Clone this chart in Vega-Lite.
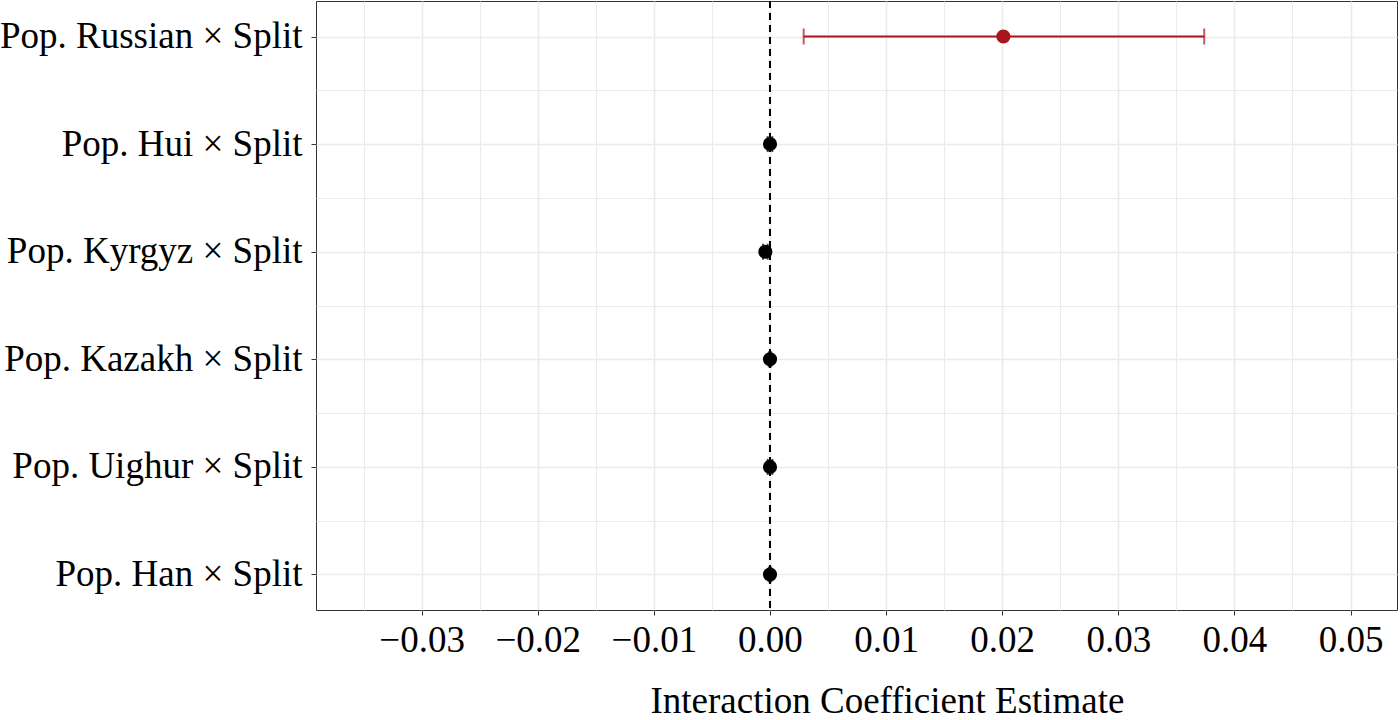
{
  "$schema": "https://vega.github.io/schema/vega-lite/v6.json",
  "width": 1081,
  "height": 609,
  "autosize": {"type": "none"},
  "padding": {"left": 316, "top": 1, "right": 3, "bottom": 110},
  "background": "white",
  "config": {
    "view": {"stroke": "#333333", "strokeWidth": 1},
    "font": "Liberation Serif",
    "axis": {
      "labelFont": "Liberation Serif",
      "titleFont": "Liberation Serif",
      "labelColor": "black",
      "titleColor": "black",
      "titleFontWeight": "normal",
      "domain": false,
      "tickColor": "#333333",
      "gridColor": "#EBEBEB",
      "labelLimit": 600
    }
  },
  "data": {
    "values": [
      {"term": "Pop. Russian × Split", "est": 0.0201, "lo": 0.0029, "hi": 0.0374, "sig": "yes"},
      {"term": "Pop. Hui × Split", "est": 0.0000, "lo": -0.0002, "hi": 0.0002, "sig": "no"},
      {"term": "Pop. Kyrgyz × Split", "est": -0.0004, "lo": -0.0006, "hi": -0.0002, "sig": "no"},
      {"term": "Pop. Kazakh × Split", "est": 0.0000, "lo": -0.0001, "hi": 0.0001, "sig": "no"},
      {"term": "Pop. Uighur × Split", "est": 0.0000, "lo": -0.0002, "hi": 0.0002, "sig": "no"},
      {"term": "Pop. Han × Split", "est": 0.0000, "lo": -0.0001, "hi": 0.0001, "sig": "no"}
    ]
  },
  "layer": [
    {
      "mark": {"type": "point", "opacity": 0},
      "encoding": {
        "y": {
          "field": "term",
          "type": "nominal",
          "scale": {"type": "point", "domain": ["m1", "m2", "m3", "m4", "m5"], "padding": 0.83},
          "axis": {"orient": "left", "grid": true, "gridWidth": 1, "labels": false, "ticks": false, "domain": false, "title": null}
        }
      }
    },
    {
      "encoding": {
        "y": {
          "field": "term",
          "type": "nominal",
          "sort": null,
          "scale": {"type": "point", "padding": 0.33},
          "axis": {
            "orient": "left",
            "grid": true,
            "gridWidth": 1.6,
            "tickSize": 5,
            "labelPadding": 9,
            "labelFontSize": 37,
            "labelLimit": 600,
            "title": null
          }
        }
      },
      "layer": [
        {
          "mark": {"type": "rule", "strokeDash": [7, 5], "strokeWidth": 2, "color": "black"},
          "encoding": {"x": {"datum": 0, "type": "quantitative"}, "y": null}
        },
        {
          "mark": {"type": "rule", "strokeWidth": 2},
          "encoding": {
            "x": {"field": "lo", "type": "quantitative"},
            "x2": {"field": "hi"},
            "color": {"field": "sig", "type": "nominal", "scale": {"domain": ["yes", "no"], "range": ["#A8141F", "black"]}, "legend": null}
          }
        },
        {
          "mark": {"type": "tick", "orient": "vertical", "size": 16, "thickness": 2},
          "encoding": {
            "x": {"field": "lo", "type": "quantitative"},
            "color": {"field": "sig", "type": "nominal", "legend": null}
          }
        },
        {
          "mark": {"type": "tick", "orient": "vertical", "size": 16, "thickness": 2},
          "encoding": {
            "x": {"field": "hi", "type": "quantitative"},
            "color": {"field": "sig", "type": "nominal", "legend": null}
          }
        },
        {
          "mark": {"type": "circle", "size": 200, "opacity": 1},
          "encoding": {
            "x": {
              "field": "est",
              "type": "quantitative",
              "scale": {"domain": [-0.0391, 0.054], "nice": false, "zero": false},
              "axis": {
                "values": [-0.035, -0.03, -0.025, -0.02, -0.015, -0.01, -0.005, 0, 0.005, 0.01, 0.015, 0.02, 0.025, 0.03, 0.035, 0.04, 0.045, 0.05],
                "labelExpr": "abs(round(datum.value*1000)%10)==0 ? format(datum.value, '.2f') : ''",
                "grid": true,
                "gridWidth": {"condition": {"test": "abs(round(datum.value*1000)%10)==0", "value": 1.6}, "value": 1},
                "tickOpacity": {"condition": {"test": "abs(round(datum.value*1000)%10)==0", "value": 1}, "value": 0},
                "tickSize": 5,
                "labelPadding": 7,
                "labelFontSize": 37,
                "labelFlush": false,
                "labelOverlap": false,
                "title": "Interaction Coefficient Estimate",
                "titleFontSize": 37,
                "titlePadding": 25,
                "titleX": 571,
                "titleAlign": "center"
              }
            },
            "color": {"field": "sig", "type": "nominal", "legend": null}
          }
        }
      ]
    }
  ],
  "resolve": {"scale": {"y": "independent"}}
}
